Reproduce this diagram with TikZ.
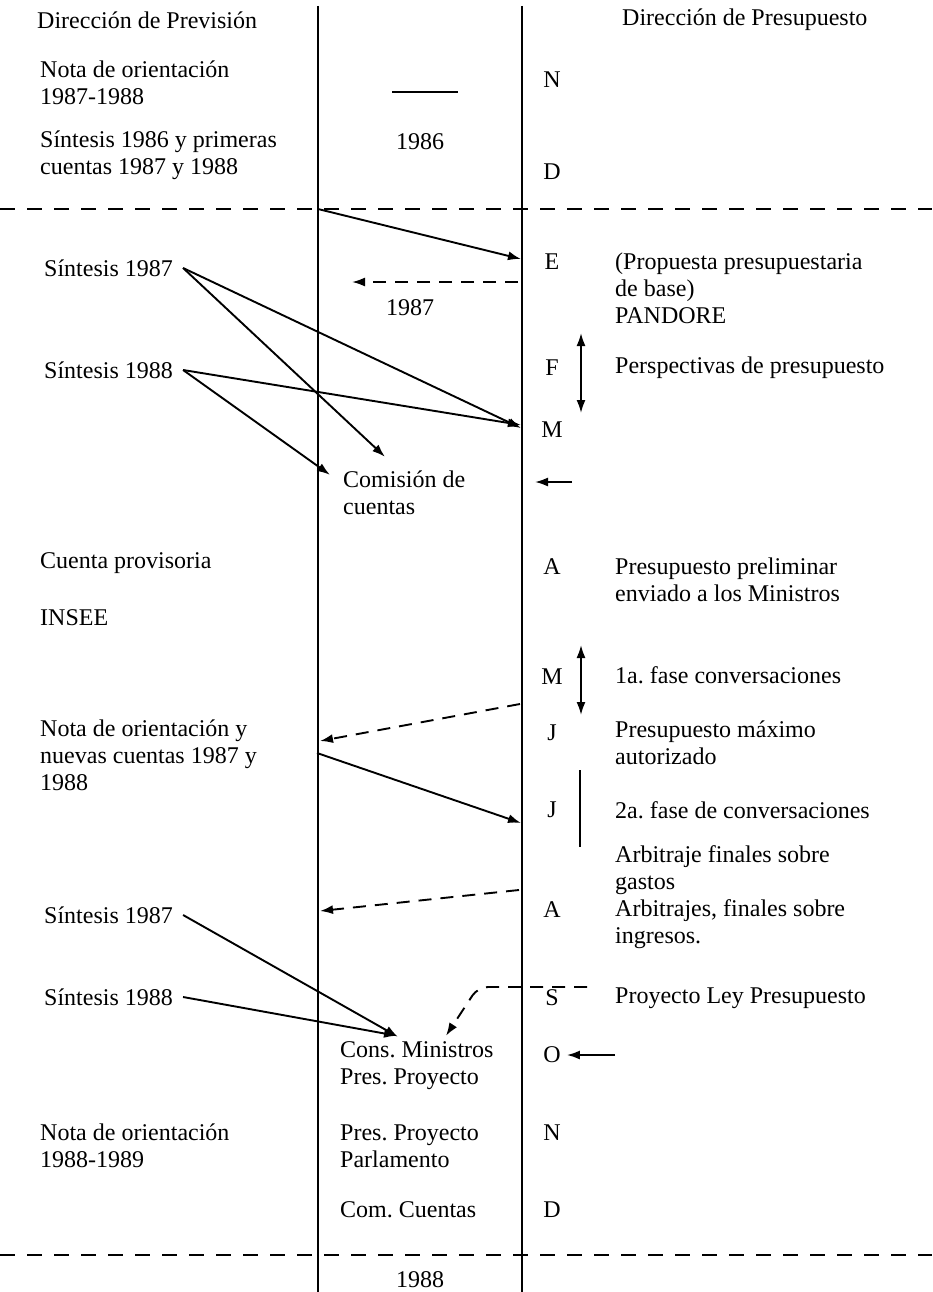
\documentclass[tikz,border=0pt]{standalone}
\usepackage{fontspec}
\setmainfont{Liberation Serif}
\usetikzlibrary{arrows.meta}

\begin{document}
\begin{tikzpicture}[
        x=1pt, y=-1pt,
        every node/.style={font=\fontsize{24}{27}\selectfont\frenchspacing},
        txt/.style={anchor=west, align=left, inner sep=0pt},
        mes/.style={inner sep=0pt},
        eje/.style={line width=2.6pt},
        corte/.style={line width=2.6pt, dashed, dash pattern=on 15pt off 12pt},
        flecha/.style={-{Latex[length=13pt,width=9pt]}, line width=1.9pt},
        discont/.style={flecha, dashed, dash pattern=on 13pt off 9pt},
        doble/.style={{Latex[length=13pt,width=9pt]}-{Latex[length=13pt,width=9pt]}, line width=1.9pt}
    ]
        \useasboundingbox (0,0) rectangle (932,1292);

        % columnas y cortes de ano
        \coordinate (izqA) at (318,6);
        \coordinate (izqB) at (318,1292);
        \coordinate (derA) at (522,6);
        \coordinate (derB) at (522,1292);
        \draw[eje] (izqA) -- (izqB);
        \draw[eje] (derA) -- (derB);
        \coordinate (corteA1) at (0,209);
        \coordinate (corteA2) at (932,209);
        \coordinate (corteB1) at (0,1255);
        \coordinate (corteB2) at (932,1255);
        \draw[corte] (corteA1) -- (corteA2);
        \draw[corte] (corteB1) -- (corteB2);

        \node[txt] (prev) at (37,20) {Dirección de Previsión};
        \node[txt] (pres) at (622,20) {Dirección de Presupuesto};

        % Direccion de Prevision
        \node[txt] (nota1) at (40,83) {Nota de orientación\\1987-1988};
        \node[txt] (sint86) at (40,155) {Síntesis 1986 y primeras\\cuentas 1987 y 1988};
        \node[txt] (s87a) at (44,268) {Síntesis 1987};
        \node[txt] (s88a) at (44,370) {Síntesis 1988};
        \node[txt] (cprov) at (40,563) {Cuenta provisoria};
        \node[txt] (insee) at (40,618) {INSEE};
        \node[txt] (nota2) at (40,755) {Nota de orientación y\\nuevas cuentas 1987 y\\1988};
        \node[txt] (s87b) at (44,915) {Síntesis 1987};
        \node[txt] (s88b) at (44,997) {Síntesis 1988};
        \node[txt] (nota3) at (40,1146) {Nota de orientación\\1988-1989};

        % centro
        \coordinate (rayaA) at (392,92);
        \coordinate (rayaB) at (458,92);
        \draw[line width=2pt] (rayaA) -- (rayaB);
        \node[mes] (a86) at (420,142) {1986};
        \node[mes] (a87) at (410,308) {1987};
        \node[txt] (com) at (343,493) {Comisión de\\cuentas};
        \node[txt] (cons) at (340,1066) {Cons. Ministros\\Pres. Proyecto};
        \node[txt] (parl) at (340,1146) {Pres. Proyecto\\Parlamento};
        \node[txt] (comc) at (340,1210) {Com. Cuentas};
        \node[mes] (a88) at (420,1280) {1988};

        % meses
        \node[mes] (n1) at (552,80) {N};
        \node[mes] (d1) at (552,172) {D};
        \node[mes] (e1) at (552,262) {E};
        \node[mes] (f1) at (552,368) {F};
        \node[mes] (m1) at (552,430) {M};
        \node[mes] (a1) at (552,567) {A};
        \node[mes] (m2) at (552,677) {M};
        \node[mes] (j1) at (552,733) {J};
        \node[mes] (j2) at (552,810) {J};
        \node[mes] (a2) at (552,910) {A};
        \node[mes] (s1) at (552,998) {S};
        \node[mes] (o1) at (552,1055) {O};
        \node[mes] (n2) at (552,1133) {N};
        \node[mes] (d2) at (552,1210) {D};

        % Direccion de Presupuesto
        \node[txt] (pandore) at (615,288) {(Propuesta presupuestaria\\de base)\\PANDORE};
        \node[txt] (persp) at (615,368) {Perspectivas de presupuesto};
        \node[txt] (prelim) at (615,580) {Presupuesto preliminar\\enviado a los Ministros};
        \node[txt] (fase1) at (615,675) {1a. fase conversaciones};
        \node[txt] (maximo) at (615,743) {Presupuesto máximo\\autorizado};
        \node[txt] (fase2) at (615,810) {2a. fase de conversaciones};
        \node[txt] (arbit) at (615,897) {Arbitraje finales sobre\\gastos\\Arbitrajes, finales sobre\\ingresos.};
        \node[txt] (ley) at (615,998) {Proyecto Ley Presupuesto};

        % flechas
        \coordinate (cruce) at (318,209);
        \coordinate (pE) at (521,259);
        \draw[flecha] (cruce) -- (pE);
        \coordinate (vuelta1) at (518,282);
        \coordinate (vuelta2) at (352,282);
        \draw[discont] (vuelta1) -- (vuelta2);

        \coordinate (pM) at (521,428);
        \draw[flecha] ([xshift=10pt]s87a.east) -- (pM);
        \draw[flecha] ([xshift=10pt]s87a.east) -- ([xshift=42pt,yshift=14pt]com.north west);
        \draw[flecha] ([xshift=10pt]s88a.east) -- ([yshift=3pt]pM);
        \draw[flecha] ([xshift=10pt]s88a.east) -- ([xshift=-13pt,yshift=-4pt]com.north west);

        \coordinate (fA) at (581,333);
        \coordinate (fB) at (581,413);
        \draw[doble] (fA) -- (fB);
        \coordinate (cIni) at (572,482);
        \coordinate (cFin) at (535,482);
        \draw[flecha] (cIni) -- (cFin);

        \coordinate (mA) at (581,645);
        \coordinate (mB) at (581,715);
        \draw[doble] (mA) -- (mB);
        \coordinate (pJ1) at (520,704);
        \coordinate (pNota) at (320,741);
        \draw[discont] (pJ1) -- (pNota);
        \coordinate (pNota2) at (317,753);
        \coordinate (pJ2) at (521,823);
        \draw[flecha] (pNota2) -- (pJ2);
        \coordinate (tramoA) at (580,770);
        \coordinate (tramoB) at (580,847);
        \draw[line width=1.6pt] (tramoA) -- (tramoB);

        \coordinate (pA) at (519,890);
        \coordinate (pIz) at (320,911);
        \draw[discont] (pA) -- (pIz);
        \draw[flecha] ([xshift=10pt]s87b.east) -- ([xshift=58pt,yshift=5pt]cons.north west);
        \draw[flecha] ([xshift=10pt]s88b.east) -- ([xshift=57pt,yshift=6pt]cons.north west);

        \coordinate (sIni) at (587,987);
        \coordinate (sEsq) at (478,987);
        \draw[discont, rounded corners=10pt] (sIni) -- (sEsq) -- ([xshift=106pt,yshift=6pt]cons.north west);
        \coordinate (oIni) at (615,1055);
        \draw[flecha] (oIni) -- ([xshift=6pt]o1.east);
    \end{tikzpicture}
\end{document}
